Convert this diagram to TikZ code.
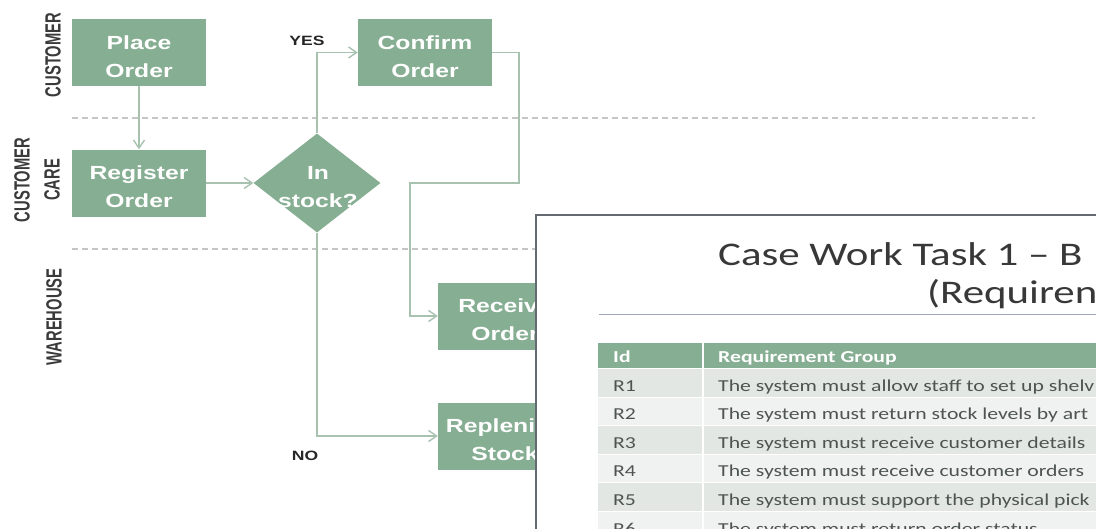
\documentclass[tikz,border=0pt]{standalone}
\usepackage{fontspec}
\setmainfont{Liberation Sans}
\newfontfamily\boxfont[FakeStretch=1.3]{Liberation Sans}
\newfontfamily\lanefont[FakeStretch=0.67]{Liberation Sans}
\newfontfamily\slidefont[FakeStretch=1.3]{Carlito}
\usepackage{tikz}
\usetikzlibrary{shapes.geometric}
\usetikzlibrary{arrows.meta}
\definecolor{boxgreen}{RGB}{134,174,146}
\definecolor{linegreen}{RGB}{168,194,176}
\definecolor{dashgray}{RGB}{196,198,198}
\definecolor{lanegray}{RGB}{58,58,58}
\definecolor{slideedge}{RGB}{100,106,114}
\definecolor{rulegray}{RGB}{160,168,184}
\definecolor{rowdark}{RGB}{226,231,228}
\definecolor{rowlight}{RGB}{239,242,240}
\definecolor{celltext}{RGB}{78,84,81}
\definecolor{titlegray}{RGB}{56,56,56}

\begin{document}
\begin{tikzpicture}[x=1pt,y=-1pt]
  \tikzstyle{task}=[rectangle,fill=boxgreen,minimum width=134,minimum height=67,inner sep=0pt,text height=49pt,text depth=0pt,text=white,align=center,font=\boxfont\bfseries\fontsize{19}{28}\selectfont]
  \tikzstyle{decision}=[diamond,fill=boxgreen,minimum width=127,minimum height=99,inner sep=0pt]
  \tikzstyle{flow}=[draw=linegreen,line width=1.4,-{Straight Barb[length=8pt,width=11pt,line width=1.4pt]}]
  \tikzstyle{lane}=[rotate=90,align=center,text=lanegray,font=\lanefont\bfseries\fontsize{22}{30}\selectfont]
  \tikzstyle{laneline}=[draw=dashgray,line width=1.2,dash pattern=on 6pt off 4pt]
  \tikzstyle{answer}=[text=black!85,font=\boxfont\bfseries\fontsize{13.5}{15}\selectfont]
  \tikzstyle{cell}=[anchor=base west,inner sep=0pt,text=celltext,font=\slidefont\fontsize{16.7}{20}\selectfont]

  \useasboundingbox (0,0) rectangle (1096,528);
  \fill[white] (0,0) rectangle (1096,528);

  \node[lane] (customer) at (53,55) {CUSTOMER};
  \node[lane] (care) at (37,180) {CUSTOMER\\CARE};
  \node[lane] (warehouse) at (54,317) {WAREHOUSE};
  \draw[laneline] (72,118) -- (1035,118);
  \draw[laneline] (72,249) -- (1035,249);

  \node[task] (place) at (139,52.5) {Place\\Order};
  \node[task] (register) at (139,183) {Register\\Order};
  \draw[flow] (place) -- (register);

  \node[decision] (stock) at (317,183) {};
  \node[text=white,align=center,font=\boxfont\bfseries\fontsize{19}{28}\selectfont] (stocktext) at (318,187) {In\\stock?};
  \draw[flow] (register) -- (stock);

  \node[task] (confirm) at (425,52.5) {Confirm\\Order};
  \draw[flow] (stock) |- (confirm);
  \node[answer] (yes) at (307,41) {YES};

  \node[task] (receive) at (505,316) {Receive\\Order};
  \coordinate (turn1) at (519,183);
  \coordinate (turn2) at (410,183);
  \draw[flow] (confirm) -| (turn1) -- (turn2) |- (receive);

  \node[task] (replenish) at (505,436) {Replenish\\Stock};
  \draw[flow] (stock) |- (replenish);
  \node[answer] (no) at (305,456) {NO};

  \node[draw=slideedge,line width=2,fill=white,anchor=north west,minimum width=580,minimum height=330] (slide) at (535,214) {};
  \node[anchor=base west,inner sep=0pt,text=titlegray,font=\slidefont\fontsize{33}{40}\selectfont] (title1) at (718,265) {Case Work Task 1 – B};
  \node[anchor=base west,inner sep=0pt,text=titlegray,font=\slidefont\fontsize{33}{40}\selectfont] (title2) at (927,303) {(Requiren};
  \draw[rulegray,line width=1] (599,314) -- (1100,314);

  \fill[boxgreen] (598,343) rectangle (702,368);
  \fill[boxgreen] (704,343) rectangle (1100,368);
  \node[cell,text=white,font=\slidefont\bfseries\fontsize{16.7}{20}\selectfont] (idhead) at (613,362) {Id};
  \node[cell,text=white,font=\slidefont\bfseries\fontsize{16.7}{20}\selectfont] (grouphead) at (718,362) {Requirement Group};
  \foreach \id/\rowcol/\req [count=\i] in {R1/rowdark/The system must allow staff to set up shelv,
      R2/rowlight/The system must return stock levels by art,
      R3/rowdark/The system must receive customer details,
      R4/rowlight/The system must receive customer orders,
      R5/rowdark/The system must support the physical pick,
      R6/rowlight/The system must return order status} {
    \pgfmathsetmacro{\rowtop}{369+28.6*(\i-1)}
    \fill[\rowcol] (598,\rowtop) rectangle (702,\rowtop+27.6);
    \fill[\rowcol] (704,\rowtop) rectangle (1100,\rowtop+27.6);
    \node[cell] (id\i) at (613,\rowtop+22) {\id};
    \node[cell] (req\i) at (718,\rowtop+22) {\req};
  }
\end{tikzpicture}
\end{document}
